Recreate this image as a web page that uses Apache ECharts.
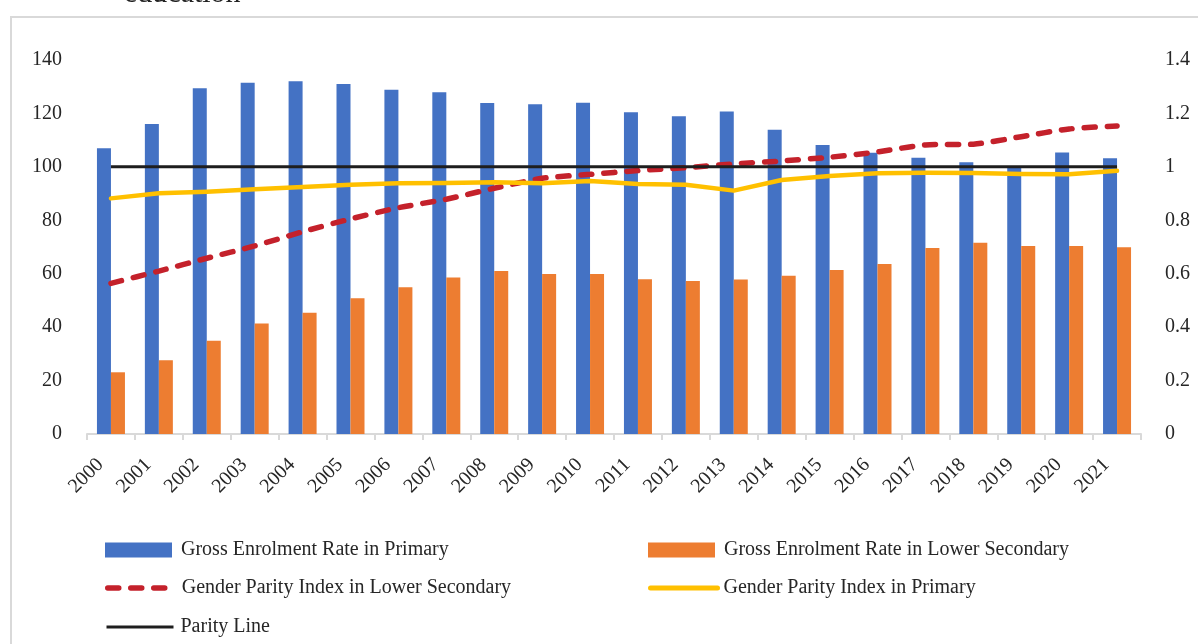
<!DOCTYPE html>
<html>
<head>
<meta charset="utf-8">
<script src="https://cdn.jsdelivr.net/npm/echarts@6/dist/echarts.min.js"></script>
<style>
html,body{margin:0;padding:0;background:#fff;}
#chart{width:1198px;height:644px;}
</style>
</head>
<body>
<div id="chart"></div>
<script>
const years = ['2000','2001','2002','2003','2004','2005','2006','2007','2008','2009','2010','2011','2012','2013','2014','2015','2016','2017','2018','2019','2020','2021'];
const gerPrimary = [107, 116, 129.4, 131.5, 132, 131, 128.9, 127.9, 123.9, 123.4, 124, 120.4, 118.9, 120.7, 113.9, 108.2, 105.3, 103.4, 101.7, 100.2, 105.4, 103.2];
const gerLowerSec = [23.1, 27.6, 34.9, 41.4, 45.4, 50.8, 54.9, 58.6, 61.0, 59.9, 59.9, 57.9, 57.3, 57.8, 59.2, 61.4, 63.6, 69.6, 71.6, 70.4, 70.4, 69.9];
const gpiLowerSec = [0.564, 0.61, 0.658, 0.704, 0.757, 0.805, 0.847, 0.879, 0.92, 0.957, 0.972, 0.986, 0.997, 1.011, 1.022, 1.036, 1.056, 1.082, 1.085, 1.113, 1.142, 1.153];
const gpiPrimary = [0.882, 0.901, 0.907, 0.916, 0.925, 0.933, 0.939, 0.94, 0.942, 0.939, 0.947, 0.936, 0.933, 0.911, 0.951, 0.966, 0.976, 0.978, 0.977, 0.973, 0.972, 0.985];
const parity = years.map(() => 1);
const leftTicks = [0, 140, 20];
const rightTicks = [0, 1.4, 0.2];

const names = ['Gross Enrolment Rate in Primary', 'Gross Enrolment Rate in Lower Secondary', 'Gender Parity Index in Lower Secondary', 'Gender Parity Index in Primary', 'Parity Line'];

const FONT = '"Liberation Serif", "Times New Roman", serif';
const chart = echarts.init(document.getElementById('chart'));

function leg(name, left, top, extra) {
  return Object.assign({
    data: [name], left: left, top: top, orient: 'horizontal',
    itemWidth: 67, itemHeight: 15, padding: 0,
    selectedMode: false,
    textStyle: { fontFamily: FONT, fontSize: 20, color: '#262626', lineHeight: 20, padding: [0,0,0,4] }
  }, extra || {});
}

chart.setOption({
  animation: false,
  backgroundColor: '#fff',
  graphic: [
    { type: 'rect', shape: { x: 11, y: 17, width: 1300, height: 700 }, style: { fill: 'none', stroke: '#d9d9d9', lineWidth: 2 }, silent: true },
    { type: 'text', x: 124, y: -6, z: 100, style: { text: 'education', fontFamily: FONT, fontSize: 30, fill: '#222', verticalAlign: 'middle' } }
  ],
  legend: [
    leg(names[0], 105, 540, { icon: 'rect' }),
    leg(names[1], 648, 540, { icon: 'rect' }),
    leg(names[2], 105, 578, { itemStyle: { opacity: 0 }, lineStyle: { width: 5.5, type: [11, 12], cap: 'round' }, textStyle: { fontFamily: FONT, fontSize: 20, color: '#262626', lineHeight: 20, padding: [0,0,0,2] } }),
    leg(names[3], 648, 578, { itemStyle: { opacity: 0 }, lineStyle: { width: 5, cap: 'round' }, textStyle: { fontFamily: FONT, fontSize: 20, color: '#262626', lineHeight: 20, padding: [0,0,0,1] } }),
    leg(names[4], 105, 617, { itemStyle: { opacity: 0 }, lineStyle: { width: 3 }, textStyle: { fontFamily: FONT, fontSize: 20, color: '#262626', lineHeight: 20, padding: [0,0,0,2] } })
  ],
  grid: { left: 87, right: 57, top: 60, bottom: 210, containLabel: false },
  xAxis: {
    type: 'category', data: years, boundaryGap: true,
    axisLine: { lineStyle: { color: '#d9d9d9', width: 2 } },
    axisTick: { show: true, alignWithLabel: false, length: 6, lineStyle: { color: '#d9d9d9', width: 2 } },
    axisLabel: { rotate: 45, margin: 17, padding: [0, 15, 0, 0], fontFamily: FONT, fontSize: 20, color: '#262626', interval: 0 }
  },
  yAxis: [
    { type: 'value', min: leftTicks[0], max: leftTicks[1], interval: leftTicks[2],
      axisLine: { show: false }, axisTick: { show: false }, splitLine: { show: false },
      axisLabel: { margin: 25, fontFamily: FONT, fontSize: 20, color: '#262626' } },
    { type: 'value', min: rightTicks[0], max: rightTicks[1], interval: rightTicks[2],
      axisLine: { show: false }, axisTick: { show: false }, splitLine: { show: false },
      axisLabel: { margin: 24, fontFamily: FONT, fontSize: 20, color: '#262626',
        formatter: v => String(Math.round(v * 10) / 10) } }
  ],
  series: [
    { name: names[0], type: 'bar', data: gerPrimary, barWidth: 14, barGap: '0%', itemStyle: { color: '#4472C4' }, yAxisIndex: 0 },
    { name: names[1], type: 'bar', data: gerLowerSec, barWidth: 14, barGap: '0%', itemStyle: { color: '#ED7D31' }, yAxisIndex: 0 },
    { name: names[2], type: 'line', data: gpiLowerSec, yAxisIndex: 1, symbol: 'none', smooth: 0.25,
      lineStyle: { color: '#C4212B', width: 5.5, type: [11, 12], cap: 'round' }, itemStyle: { color: '#C4212B' }, z: 3 },
    { name: names[3], type: 'line', data: gpiPrimary, yAxisIndex: 1, symbol: 'none',
      lineStyle: { color: '#FFC000', width: 4.5, cap: 'round', join: 'round' }, itemStyle: { color: '#FFC000' }, z: 4 },
    { name: names[4], type: 'line', data: parity, yAxisIndex: 1, symbol: 'none',
      lineStyle: { color: '#1e1e1e', width: 3 }, itemStyle: { color: '#1e1e1e' }, z: 5 }
  ]
});
</script>
</body>
</html>
